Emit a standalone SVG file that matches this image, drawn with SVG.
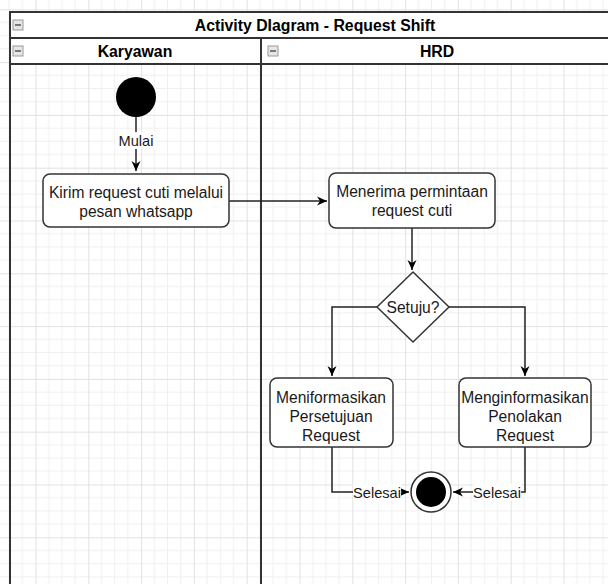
<svg xmlns="http://www.w3.org/2000/svg" width="608" height="584" viewBox="0 0 608 584">
<defs>
<pattern id="grid" patternUnits="userSpaceOnUse" x="35.5" y="9.3" width="52.8" height="52.8">
<path d="M13.2 0V52.8M26.4 0V52.8M39.6 0V52.8M0 13.2H52.8M0 26.4H52.8M0 39.6H52.8" stroke="#f0f0f0" stroke-width="1" fill="none"/>
<path d="M0.5 0V52.8M0 0.5H52.8" stroke="#e2e2e2" stroke-width="1" fill="none"/>
</pattern>
<marker id="arr" markerUnits="userSpaceOnUse" markerWidth="12" markerHeight="10" refX="10" refY="5" orient="auto">
<path d="M0,0.5 L10,5 L0,9.5 L3,5 Z" fill="#000"/>
</marker>
<g id="icon">
<rect x="0" y="0" width="10" height="10" fill="#e6e6e6" stroke="#9a9a9a" stroke-width="1"/>
<rect x="2" y="4" width="6" height="2" fill="#7a7a7a"/>
</g>
</defs>
<style>
.hdr{fill:#fff;stroke:#333;stroke-width:2}
.ht{font-family:"Liberation Sans",Arial,sans-serif;font-weight:bold;font-size:15.8px;fill:#000;text-anchor:middle}
.box{fill:#fff;stroke:#333;stroke-width:1.5}
.t{font-family:"Liberation Sans",Arial,sans-serif;font-size:15.6px;fill:#1a1a1a;text-anchor:middle}
.lbl{font-family:"Liberation Sans",Arial,sans-serif;font-size:14.6px;fill:#1a1a1a;text-anchor:middle}
.e{fill:none;stroke:#222;stroke-width:1.5}
</style>
<rect width="608" height="584" fill="#fff"/>
<rect width="608" height="584" fill="url(#grid)"/>

<g id="pool">
<rect class="hdr" x="10" y="12" width="610" height="26"/>
<use href="#icon" x="13" y="20"/>
<text class="ht" x="315" y="30.5">Activity DIagram - Request Shift</text>
</g>
<g id="lane-karyawan">
<rect class="hdr" x="10" y="38" width="251" height="26"/>
<use href="#icon" x="13" y="46"/>
<text class="ht" x="135" y="56.5">Karyawan</text>
<line x1="10" y1="64" x2="10" y2="590" stroke="#333" stroke-width="2"/>
</g>
<g id="lane-hrd">
<rect class="hdr" x="261" y="38" width="359" height="26"/>
<use href="#icon" x="268" y="46"/>
<text class="ht" x="437" y="56.5">HRD</text>
<line x1="261" y1="64" x2="261" y2="590" stroke="#333" stroke-width="2"/>
</g>

<g id="connectors">
<path class="e" d="M136 117V171" marker-end="url(#arr)"/>
<rect x="116" y="132" width="40" height="17" fill="#fff"/>
<text class="lbl" x="136" y="145.5">Mulai</text>
<path class="e" d="M229 201H327" marker-end="url(#arr)"/>
<path class="e" d="M412 228V270" marker-end="url(#arr)"/>
<path class="e" d="M377 307H332V376" marker-end="url(#arr)"/>
<path class="e" d="M449 307H525V376" marker-end="url(#arr)"/>
<path class="e" d="M332 447V492H409" marker-end="url(#arr)"/>
<path class="e" d="M525 447V492H453" marker-end="url(#arr)"/>
<rect x="353" y="484" width="48" height="17" fill="#fff"/>
<text class="lbl" x="377" y="497.5">Selesai</text>
<rect x="473" y="484" width="48" height="17" fill="#fff"/>
<text class="lbl" x="497" y="497.5">Selesai</text>
</g>

<g id="start">
<circle cx="136" cy="97" r="20" fill="#000"/>
</g>
<g id="kirim">
<rect class="box" x="43" y="174" width="186" height="53" rx="7"/>
<text class="t" x="136" y="198">Kirim request cuti melalui</text>
<text class="t" x="136" y="217">pesan whatsapp</text>
</g>
<g id="menerima">
<rect class="box" x="329" y="173" width="166" height="55" rx="7"/>
<text class="t" x="412" y="197">Menerima permintaan</text>
<text class="t" x="412" y="216">request cuti</text>
</g>
<g id="setuju">
<path class="box" d="M413 272L449 307L413 342L377 307Z" stroke-linejoin="round"/>
<text class="t" x="413" y="312.5">Setuju?</text>
</g>
<g id="persetujuan">
<rect class="box" x="270" y="378" width="123" height="69" rx="7"/>
<text class="t" x="331" y="402.5">Meniformasikan</text>
<text class="t" x="331" y="421.5">Persetujuan</text>
<text class="t" x="331" y="440.5">Request</text>
</g>
<g id="penolakan">
<rect class="box" x="459" y="378" width="132" height="69" rx="7"/>
<text class="t" x="525" y="402.5">Menginformasikan</text>
<text class="t" x="525" y="421.5">Penolakan</text>
<text class="t" x="525" y="440.5">Request</text>
</g>
<g id="end">
<circle cx="431" cy="492" r="20" fill="#fff" stroke="#333" stroke-width="1.5"/>
<circle cx="431" cy="492" r="15" fill="#000"/>
</g>
</svg>
